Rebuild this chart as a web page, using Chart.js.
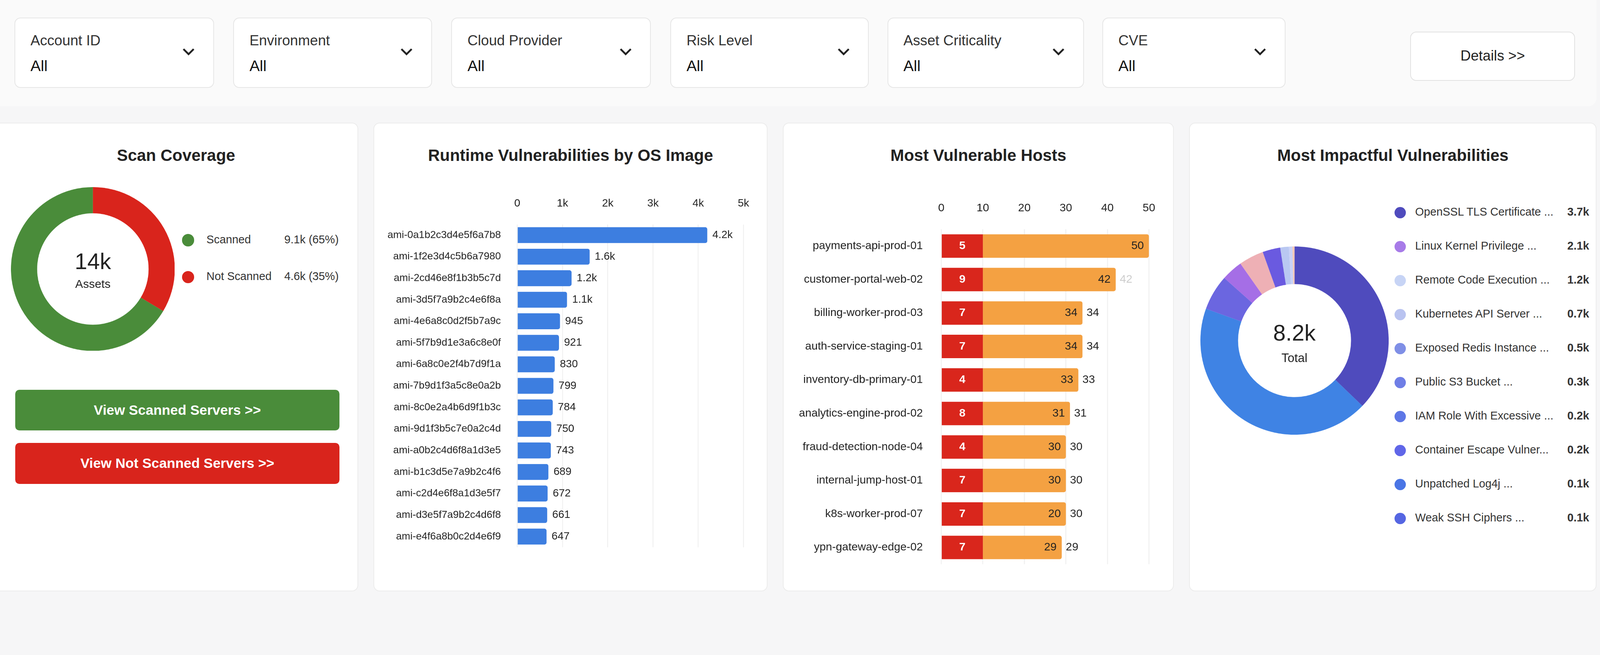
<!DOCTYPE html>
<html>
<head>
<meta charset="utf-8">
<script src="https://cdn.jsdelivr.net/npm/chart.js@4.4.1/dist/chart.umd.min.js"></script>
<style>
  html, body { margin: 0; padding: 0; background: #f6f6f7; }
  body { zoom: 2.62; width: 1568px; height: 590px; position: relative; overflow: hidden; font-family: "Liberation Sans", Arial, sans-serif; color: #222; }
  .bar { position: absolute; left: -6px; top: -6px; width: 1566px; height: 110px; background: #fafafa; border-radius: 8px; }
  .filter { position: absolute; top: 17px; height: 69px; background: #fff; border: 1px solid #e6e6e6; border-radius: 6px; box-sizing: border-box; }
  .filter .lab { position: absolute; left: 15px; top: 14px; font-size: 14px; color: #333; }
  .filter .val { position: absolute; left: 15px; top: 38px; font-size: 15px; font-weight: 500; color: #111; }
  .filter svg { position: absolute; right: 18px; top: 29px; }
  .details { position: absolute; left: 1378px; top: 31px; width: 161px; height: 48px; background: #fff; border: 1px solid #e2e2e2; border-radius: 6px; box-sizing: border-box; font-size: 14px; text-align: center; line-height: 46px; }
  .card { position: absolute; top: 120px; height: 458px; background: #fff; border: 1px solid #ececec; border-radius: 6px; box-sizing: border-box; }
  .card h3 { margin: 0; position: absolute; left: 0; right: 0; top: 22px; text-align: center; font-size: 16px; font-weight: bold; }
  .box { position: absolute; }
  .leg { position: absolute; font-size: 11px; color: #333; }
  .dot { display: inline-block; width: 12px; height: 12px; border-radius: 50%; vertical-align: middle; margin-right: 12px; }
  .btn { position: absolute; left: 14px; width: 317px; height: 40px; border-radius: 4px; color: #fff; font-weight: bold; font-size: 13.5px; text-align: center; line-height: 40px; }
  .centre { position: absolute; text-align: center; }
</style>
</head>
<body>
<div class="bar"></div>
<div id="filters"></div>
<div class="details">Details &gt;&gt;</div>

<div class="card" style="left:-6px;width:356px;">
  <h3>Scan Coverage</h3>
  <div class="box" style="left:16px;top:62px;width:160px;height:160px;"><canvas id="scanChart"></canvas></div>
  <div class="centre" style="left:56px;top:122px;width:80px;"><div style="font-size:22px;">14k</div><div style="font-size:11.5px;margin-top:3px;">Assets</div></div>
  <div class="leg" style="left:183px;top:107px;"><span class="dot" style="background:#4a8c3a"></span>Scanned<span style="position:absolute;left:100px;width:60px;">9.1k (65%)</span></div>
  <div class="leg" style="left:183px;top:143px;"><span class="dot" style="background:#d9241c"></span>Not Scanned<span style="position:absolute;left:100px;width:60px;">4.6k (35%)</span></div>
  <div class="btn" style="top:260px;left:20px;background:#4a8c3a;">View Scanned Servers &gt;&gt;</div>
  <div class="btn" style="top:312px;left:20px;background:#d9241c;">View Not Scanned Servers &gt;&gt;</div>
</div>

<div class="card" style="left:365px;width:385px;">
  <h3>Runtime Vulnerabilities by OS Image</h3>
  <div class="box" style="left:5px;top:58px;width:375px;height:370px;"><canvas id="osChart"></canvas></div>
</div>

<div class="card" style="left:765px;width:382px;">
  <h3>Most Vulnerable Hosts</h3>
  <div class="box" style="left:5px;top:62px;width:372px;height:385px;"><canvas id="hostChart"></canvas></div>
</div>

<div class="card" style="left:1162px;width:398px;">
  <h3>Most Impactful Vulnerabilities</h3>
  <div class="box" style="left:10px;top:120px;width:184px;height:184px;"><canvas id="impactChart"></canvas></div>
  <div class="centre" style="left:62px;top:192px;width:80px;"><div style="font-size:22px;">8.2k</div><div style="font-size:12px;margin-top:5px;">Total</div></div>
  <div id="impactLegend"></div>
</div>

<script>
// Filtros do topo
const filterNames = ['Account ID', 'Environment', 'Cloud Provider', 'Risk Level', 'Asset Criticality', 'CVE'];
const filterX = [14, 228, 441, 655, 867, 1077];
const filterW = [195, 194, 195, 194, 192, 179];

// Scan Coverage
const scanLabels = ['Not Scanned', 'Scanned'];
const scanValues = [4.6, 9.1];
const scanColors = ['#d9241c', '#4a8c3a'];

// Runtime Vulnerabilities by OS Image
const osImages = ['ami-0a1b2c3d4e5f6a7b8', 'ami-1f2e3d4c5b6a7980', 'ami-2cd46e8f1b3b5c7d', 'ami-3d5f7a9b2c4e6f8a',
  'ami-4e6a8c0d2f5b7a9c', 'ami-5f7b9d1e3a6c8e0f', 'ami-6a8c0e2f4b7d9f1a', 'ami-7b9d1f3a5c8e0a2b',
  'ami-8c0e2a4b6d9f1b3c', 'ami-9d1f3b5c7e0a2c4d', 'ami-a0b2c4d6f8a1d3e5', 'ami-b1c3d5e7a9b2c4f6',
  'ami-c2d4e6f8a1d3e5f7', 'ami-d3e5f7a9b2c4d6f8', 'ami-e4f6a8b0c2d4e6f9'];
const osValues = [4200, 1600, 1200, 1100, 945, 921, 830, 799, 784, 750, 743, 689, 672, 661, 647];
const osTicks = ['0', '1k', '2k', '3k', '4k', '5k'];

// Most Vulnerable Hosts
const hosts = ['payments-api-prod-01', 'customer-portal-web-02', 'billing-worker-prod-03', 'auth-service-staging-01',
  'inventory-db-primary-01', 'analytics-engine-prod-02', 'fraud-detection-node-04', 'internal-jump-host-01',
  'k8s-worker-prod-07', 'ypn-gateway-edge-02'];
const hostCritical = [5, 9, 7, 7, 4, 8, 4, 7, 7, 7];
const hostTotal = [50, 42, 34, 34, 33, 31, 30, 30, 30, 29];
const hostInner = [50, 42, 34, 34, 33, 31, 30, 30, 20, 29];
const hostRedBand = 10;

// Most Impactful Vulnerabilities
const vulnNames = ['OpenSSL TLS Certificate ...', 'Linux Kernel Privilege ...', 'Remote Code Execution ...',
  'Kubernetes API Server ...', 'Exposed Redis Instance ...', 'Public S3 Bucket ...', 'IAM Role With Excessive ...',
  'Container Escape Vulner...', 'Unpatched Log4j ...', 'Weak SSH Ciphers ...'];
const vulnLegendValues = ['3.7k', '2.1k', '1.2k', '0.7k', '0.5k', '0.3k', '0.2k', '0.2k', '0.1k', '0.1k'];
const vulnDots = ['#4f4bbd', '#a77be8', '#c7d4f5', '#b9c3f0', '#7f8fe6', '#6f7ee6', '#5e77e6', '#6066e8', '#4a75e5', '#5566e2'];
// fatias do donut (sentido horário a partir do topo)
const sliceValues = [3.05, 3.55, 0.5, 0.3, 0.35, 0.25, 0.12, 0.05, 0.03];
const sliceColors = ['#4f4bbd', '#3f83e4', '#6b66e0', '#a56ee6', '#eeb0b5', '#6a5ae0', '#b9c8f2', '#c9d2f7', '#f3c9b8'];

const DPR = 2.62 * 1.5;
const FONT = '"Liberation Sans", Arial, sans-serif';
Chart.defaults.font.family = FONT;
Chart.defaults.color = '#222';

// monta filtros
const fbox = document.getElementById('filters');
filterNames.forEach((n, i) => {
  fbox.innerHTML += `<div class="filter" style="left:${filterX[i]}px;width:${filterW[i]}px;">
    <div class="lab">${n}</div><div class="val">All</div>
    <svg width="12" height="8"><polyline points="1,1 6,6 11,1" fill="none" stroke="#222" stroke-width="1.8"/></svg></div>`;
});

// legenda das vulnerabilidades
const lg = document.getElementById('impactLegend');
vulnNames.forEach((n, i) => {
  lg.innerHTML += `<div class="leg" style="left:200px;top:${80 + i * 33.2}px;width:190px;">
    <span class="dot" style="background:${vulnDots[i]};width:11px;height:11px;margin-right:9px"></span>${n}
    <span style="position:absolute;right:0;font-weight:bold;">${vulnLegendValues[i]}</span></div>`;
});

new Chart(document.getElementById('scanChart'), {
  type: 'doughnut',
  data: { labels: scanLabels, datasets: [{ data: scanValues, backgroundColor: scanColors, borderWidth: 0 }] },
  options: { devicePixelRatio: DPR, animation: false, responsive: true, maintainAspectRatio: false, cutout: '68%',
    plugins: { legend: { display: false }, tooltip: { enabled: false } } }
});

new Chart(document.getElementById('impactChart'), {
  type: 'doughnut',
  data: { datasets: [{ data: sliceValues, backgroundColor: sliceColors, borderWidth: 0 }] },
  options: { devicePixelRatio: DPR, animation: false, responsive: true, maintainAspectRatio: false, cutout: '60%',
    plugins: { legend: { display: false }, tooltip: { enabled: false } } }
});

// plugin para escrever os valores nas barras
const valueLabels = {
  id: 'valueLabels',
  afterDatasetsDraw(chart, args, opts) {
    const ctx = chart.ctx;
    ctx.save();
    opts.draw(chart, ctx);
    ctx.restore();
  }
};

new Chart(document.getElementById('osChart'), {
  type: 'bar',
  data: { labels: osImages, datasets: [{ data: osValues, backgroundColor: '#3d7ee0', borderRadius: 2, barPercentage: 0.82, categoryPercentage: 0.9 }] },
  options: {
    devicePixelRatio: DPR, animation: false, responsive: true, maintainAspectRatio: false, indexAxis: 'y',
    layout: { padding: { right: 12, top: 0 } },
    scales: {
      x: { position: 'top', min: 0, max: 5000, border: { display: false },
        grid: { color: '#f1f1f1', drawTicks: false },
        ticks: { stepSize: 1000, padding: 14, font: { size: 10.5 }, callback: (v, i) => osTicks[i] } },
      y: { grid: { display: false }, border: { display: false }, ticks: { font: { size: 10 }, padding: 8, color: '#222' } }
    },
    plugins: { legend: { display: false }, tooltip: { enabled: false },
      valueLabels: { draw(chart, ctx) {
        const meta = chart.getDatasetMeta(0);
        ctx.font = '10.5px ' + FONT; ctx.fillStyle = '#222'; ctx.textBaseline = 'middle';
        meta.data.forEach((b, i) => {
          const v = osValues[i];
          ctx.fillText(v >= 1000 ? (v / 1000).toFixed(1) + 'k' : String(v), b.x + 5, b.y);
        });
      } } }
  },
  plugins: [valueLabels]
});

new Chart(document.getElementById('hostChart'), {
  type: 'bar',
  data: { labels: hosts, datasets: [
    { data: hosts.map(() => [0, hostRedBand]), backgroundColor: '#d9261c', barPercentage: 0.7, categoryPercentage: 1, grouped: false },
    { data: hostTotal.map(t => [hostRedBand, t]), backgroundColor: '#f4a142', borderRadius: 2, barPercentage: 0.7, categoryPercentage: 1, grouped: false }
  ] },
  options: {
    devicePixelRatio: DPR, animation: false, responsive: true, maintainAspectRatio: false, indexAxis: 'y',
    layout: { padding: { right: 14 } },
    scales: {
      x: { position: 'top', min: 0, max: 50, border: { display: false },
        grid: { color: '#f1f1f1', drawTicks: false }, ticks: { stepSize: 10, padding: 14, font: { size: 11 } } },
      y: { grid: { display: false }, border: { display: false }, ticks: { font: { size: 11 }, padding: 10, color: '#222' } }
    },
    plugins: { legend: { display: false }, tooltip: { enabled: false },
      valueLabels: { draw(chart, ctx) {
        const red = chart.getDatasetMeta(0).data, org = chart.getDatasetMeta(1).data;
        ctx.textBaseline = 'middle';
        red.forEach((b, i) => {
          ctx.font = 'bold 11px ' + FONT; ctx.fillStyle = '#fff'; ctx.textAlign = 'center';
          ctx.fillText(hostCritical[i], (b.base + b.x) / 2, b.y);
          const o = org[i];
          ctx.font = '11px ' + FONT; ctx.fillStyle = '#222'; ctx.textAlign = 'right';
          ctx.fillText(hostInner[i], o.x - 5, o.y);
          if (i > 0) { ctx.textAlign = 'left'; ctx.fillStyle = i === 1 ? '#ccc' : '#222'; ctx.fillText(hostTotal[i], o.x + 4, o.y); }
        });
      } } }
  },
  plugins: [valueLabels]
});
</script>
</body>
</html>
